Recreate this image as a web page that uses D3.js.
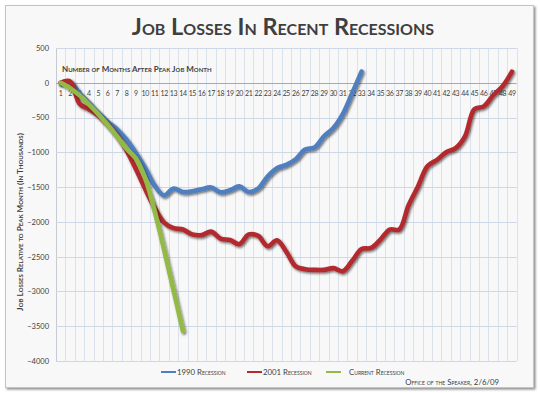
<!DOCTYPE html>
<html><head><meta charset="utf-8">
<script src="https://cdn.jsdelivr.net/npm/d3@7"></script>
<style>
html,body{margin:0;padding:0;background:#fff;}
svg{display:block;font-family:Lato,"Open Sans",sans-serif;}
</style></head>
<body>
<svg id="chart" width="540" height="393"></svg>
<script>
const months = [1,2,3,4,5,6,7,8,9,10,11,12,13,14,15,16,17,18,19,20,21,22,23,24,25,26,27,28,29,30,31,32,33,34,35,36,37,38,39,40,41,42,43,44,45,46,47,48,49];
const yTicks = [500,0,-500,-1000,-1500,-2000,-2500,-3000,-3500,-4000];
const recession1990 = [0,10,-150,-290,-430,-560,-670,-820,-1010,-1230,-1480,-1620,-1520,-1570,-1560,-1530,-1505,-1575,-1545,-1490,-1570,-1520,-1350,-1230,-1180,-1100,-960,-930,-770,-650,-450,-150,160];
const recession2001 = [0,20,-300,-380,-470,-600,-760,-970,-1240,-1530,-1800,-2010,-2090,-2110,-2180,-2190,-2140,-2240,-2260,-2320,-2180,-2200,-2350,-2265,-2430,-2640,-2680,-2690,-2690,-2665,-2710,-2560,-2390,-2375,-2255,-2110,-2110,-1760,-1490,-1200,-1110,-1000,-940,-770,-380,-340,-180,-50,160];
const recessionCurrent = [0,-76,-180,-310,-450,-605,-770,-950,-1090,-1380,-1850,-2400,-2980,-3570];
const seriesNames = ["1990 Recession","2001 Recession","Current Recession"];
const seriesColors = ["#4f7fbf","#b32b2f","#93b946"];

const svg = d3.select("#chart");
const defs = svg.append("defs");
const fs = defs.append("filter").attr("id","shadow").attr("x","-10%").attr("y","-10%").attr("width","120%").attr("height","120%");
fs.append("feDropShadow").attr("dx",1.2).attr("dy",1.5).attr("stdDeviation",0.9).attr("flood-color","#000").attr("flood-opacity",0.55);
const ff = defs.append("filter").attr("id","frameShadow").attr("x","-5%").attr("y","-5%").attr("width","110%").attr("height","110%");
ff.append("feDropShadow").attr("dx",1.5).attr("dy",1.5).attr("stdDeviation",0.8).attr("flood-color","#000").attr("flood-opacity",0.45);

// frame
svg.append("rect").attr("x",5.5).attr("y",5.5).attr("width",528).attr("height",382)
  .attr("fill","#f8f8f8").attr("stroke","#c4c4c4").attr("stroke-width",1).attr("filter","url(#frameShadow)");

const plotLeft = 56, plotRight = 516.7, plotTop = 48, plotBottom = 361;
const x = d3.scaleBand().domain(months).range([plotLeft,plotRight]).padding(0);
const y = d3.scaleLinear().domain([-4000,500]).range([plotBottom,plotTop]);

// vertical gridlines at category boundaries
const gx = svg.append("g");
const boundaries = months.map(m => x(m)).concat([plotRight]);
gx.selectAll("line.v").data(boundaries).join("line").attr("class","v")
  .attr("x1",d=>Math.round(d)+0.5).attr("x2",d=>Math.round(d)+0.5)
  .attr("y1",plotTop).attr("y2",plotBottom)
  .attr("stroke",(d,i)=> i===0 ? "#c4c9d2" : "#dbe2ec").attr("stroke-width",1);
// horizontal gridlines
gx.selectAll("line.h").data(yTicks).join("line").attr("class","h")
  .attr("x1",plotLeft).attr("x2",plotRight)
  .attr("y1",d=>Math.round(y(d))+0.5).attr("y2",d=>Math.round(y(d))+0.5)
  .attr("stroke",d=> d===0 ? "#a9a9a9" : "#cdd7e5").attr("stroke-width",1);

// y axis labels
const yAxis = d3.axisLeft(y).tickValues(yTicks).tickSize(0).tickPadding(7).tickFormat(d3.format("d"));
const ya = svg.append("g").attr("transform",`translate(${plotLeft},0)`).call(yAxis);
ya.select(".domain").remove();
ya.selectAll("text").attr("font-size",7.5).attr("fill","#404040").attr("font-family","Lato,sans-serif");

// x category labels below zero line
const xAxis = d3.axisBottom(x).tickSize(0).tickPadding(8);
const xa = svg.append("g").attr("transform",`translate(0,${y(0)})`).call(xAxis);
xa.select(".domain").remove();
xa.selectAll("text").attr("font-size",7).attr("letter-spacing","-0.35px").attr("fill","#404040").attr("font-family","Lato,sans-serif");

// axis titles
svg.append("text").attr("x",62).attr("y",72).attr("font-size",8).attr("font-weight","bold")
  .attr("fill","#404040").style("font-variant","small-caps").text("Number of Months After Peak Job Month");
svg.append("text").attr("transform","translate(23,222) rotate(-90)").attr("text-anchor","middle")
  .attr("font-size",8.2).attr("font-weight","bold").attr("fill","#404040").style("font-variant","small-caps")
  .text("Job Losses Relative to Peak Month (In Thousands)");

// title
svg.append("text").attr("x",283).attr("y",35).attr("text-anchor","middle").attr("font-size",23.5)
  .attr("font-weight","bold").attr("fill","#3f3f3f").style("font-variant","small-caps")
  .text("Job Losses In Recent Recessions");

// lines
const line = d3.line().x((d,i)=>x(months[i])+x.bandwidth()/2).y(d=>y(d)).curve(d3.curveCatmullRom.alpha(0.5));
const allSeries = [recession1990, recession2001, recessionCurrent];
svg.append("g").selectAll("path").data(allSeries).join("path")
  .attr("d",d=>line(d)).attr("fill","none")
  .attr("stroke",(d,i)=>seriesColors[i]).attr("stroke-width",4.6)
  .attr("stroke-linecap","round").attr("stroke-linejoin","round")
  .attr("filter","url(#shadow)");

// legend
const legendX = [161, 247, 326];
const lg = svg.append("g").selectAll("g").data(seriesNames).join("g")
  .attr("transform",(d,i)=>`translate(${legendX[i]},372)`);
lg.append("line").attr("x1",0).attr("x2",15).attr("y1",0).attr("y2",0)
  .attr("stroke",(d,i)=>seriesColors[i]).attr("stroke-width",2);
lg.append("text").attr("x",(d,i)=> i===2 ? 23 : 16).attr("y",2.8).attr("font-size",7.8)
  .attr("fill","#404040").style("font-variant","small-caps").text(d=>d);

// footer
svg.append("text").attr("x",499).attr("y",385).attr("text-anchor","end").attr("font-size",7.8)
  .attr("fill","#404040").style("font-variant","small-caps").text("Office of the Speaker, 2/6/09");
</script>
</body></html>
